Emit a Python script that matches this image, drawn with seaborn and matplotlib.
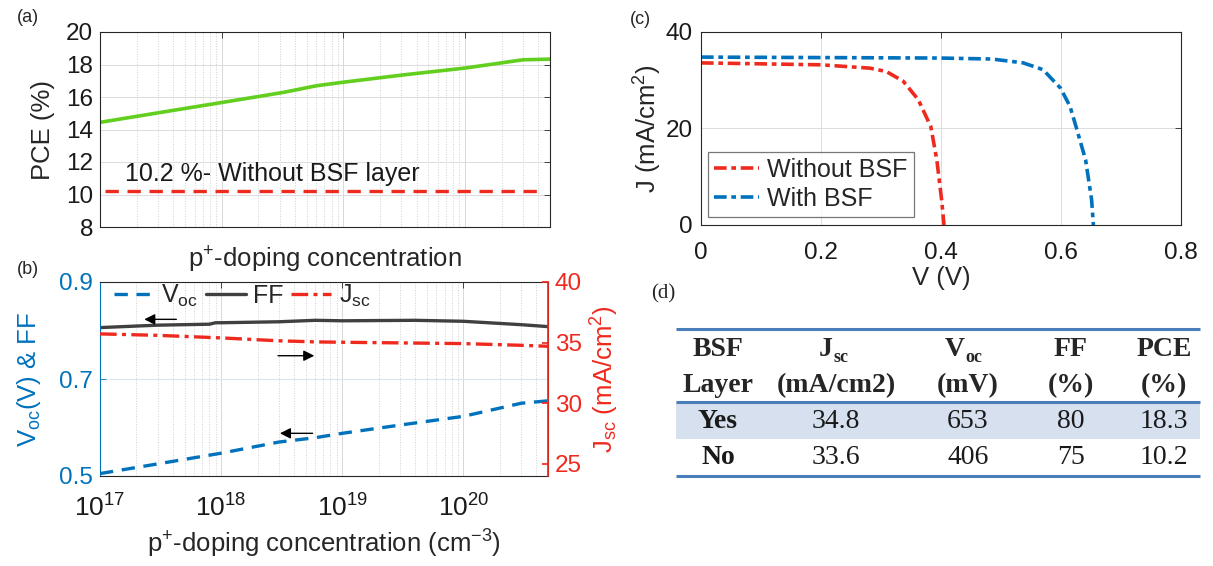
import numpy as np
import pandas as pd
import matplotlib
matplotlib.use("Agg")
import matplotlib.pyplot as plt
import seaborn as sns
from matplotlib.ticker import FixedLocator, NullFormatter, FixedFormatter, LogLocator
from matplotlib.lines import Line2D
from matplotlib.patches import Rectangle

# ---------------- data ----------------
# (a) PCE vs p+ doping
doping_a = [1e17, 3.2e17, 1e18, 3.2e18, 6e18, 1e19, 3.2e19, 1e20, 3e20, 5e20]
pce_bsf = [14.44, 15.06, 15.66, 16.28, 16.69, 16.91, 17.37, 17.78, 18.29, 18.33]
pce_no_bsf = 10.2
ref_doping = [1.1e17, 4.2e20]

# (b) Voc, FF, Jsc vs p+ doping
doping_b = [1e17, 3e17, 8e17, 9e17, 1e18, 3e18, 6e18, 1e19, 4e19, 1e20, 3e20, 5e20]
ff_vals = [0.806, 0.811, 0.813, 0.816, 0.816, 0.818, 0.821, 0.820, 0.821, 0.819, 0.812, 0.808]
doping_v = [1e17, 3e17, 1e18, 3e18, 6e18, 1e19, 3e19, 1e20, 3e20, 5e20]
voc_vals = [0.505, 0.525, 0.547, 0.570, 0.579, 0.588, 0.605, 0.623, 0.650, 0.655]
doping_j = [1e17, 3e17, 1e18, 3e18, 6e18, 1e19, 1e20, 3e20, 5e20]
jsc_vals = [35.72, 35.60, 35.39, 35.15, 35.06, 35.03, 34.92, 34.78, 34.70]

# (c) J-V curves
v_without = [0.0, 0.2, 0.282, 0.309, 0.337, 0.362, 0.383, 0.393, 0.401, 0.405]
j_without = [33.6, 33.2, 32.5, 31.8, 29.8, 26.0, 20.4, 13.5, 5.25, 0.0]
v_with = [0.0, 0.4, 0.485, 0.537, 0.570, 0.599, 0.615, 0.625, 0.641, 0.651, 0.654]
j_with = [34.8, 34.6, 34.4, 33.6, 32.2, 28.4, 24.6, 20.4, 13.5, 5.25, 0.0]

# (d) table
tbl_header1 = ["BSF", "J", "V", "FF", "PCE"]
tbl_header_sub = ["", "sc", "oc", "", ""]
tbl_header2 = ["Layer", "(mA/cm2)", "(mV)", "(%)", "(%)"]
tbl_rows = [["Yes", "34.8", "653", "80", "18.3"],
            ["No", "33.6", "406", "75", "10.2"]]

# ---------------- style ----------------
sns.set_theme(style="white")
plt.rcParams["font.family"] = ["Liberation Sans", "DejaVu Sans"]
plt.rcParams["mathtext.fontset"] = "custom"
plt.rcParams["mathtext.rm"] = "Liberation Sans"
plt.rcParams["mathtext.it"] = "Liberation Sans"
plt.rcParams["mathtext.bf"] = "Liberation Sans:bold"

BLUE = "#0072BD"
RED = "#EE2A1E"
GREEN = "#62CF1E"
GRAY = "#404040"
TICK = 17.5
LAB = 18.5

fig = plt.figure(figsize=(12.13, 5.66), dpi=100)
W, H = 1213, 566


def rect(l, t, r, b):
    return [l / W, 1 - b / H, (r - l) / W, (b - t) / H]


def style_box(ax):
    for s in ax.spines.values():
        s.set_color("#262626")
        s.set_linewidth(0.8)
    ax.tick_params(direction="in", length=4, width=0.6, labelsize=TICK,
                   top=True, right=True, colors="#262626", labelcolor="#1a1a1a")


def log_axis(ax):
    ax.set_xscale("log")
    ax.set_xlim(1e17, 5e20)
    ax.xaxis.set_major_locator(FixedLocator([1e17, 1e18, 1e19, 1e20]))
    ax.xaxis.set_minor_locator(LogLocator(base=10, subs=np.arange(2, 10)))
    ax.xaxis.set_minor_formatter(NullFormatter())
    ax.grid(True, which="minor", axis="x", color="#cfcfcf", linestyle=":", linewidth=0.7)
    ax.grid(True, which="major", axis="x", color="#d8d8d8", linestyle="-", linewidth=0.7)


# ---------------- (a) ----------------
ax_a = fig.add_axes(rect(100, 32, 550, 227))
log_axis(ax_a)
df_a = pd.DataFrame({"doping": doping_a, "pce": pce_bsf})
sns.lineplot(data=df_a, x="doping", y="pce", ax=ax_a, color=GREEN, linewidth=2.6)
df_ref = pd.DataFrame({"doping": ref_doping, "pce": [pce_no_bsf] * len(ref_doping)})
sns.lineplot(data=df_ref, x="doping", y="pce", ax=ax_a, color=RED, linewidth=2.4,
             linestyle=(0, (4, 2.6)))
ax_a.set_ylim(8, 20)
ax_a.set_yticks([8, 10, 12, 14, 16, 18, 20])
ax_a.grid(True, which="major", axis="y", color="#dcdcdc", linewidth=0.7)
ax_a.xaxis.set_major_formatter(NullFormatter())
style_box(ax_a)
ax_a.tick_params(axis="y", pad=5)
ax_a.set_xlabel("p$^{+}$-doping concentration", fontsize=LAB, labelpad=5)
ax_a.set_ylabel("PCE (%)", fontsize=LAB, labelpad=8)
ax_a.text(1.6e17, 11.25, "%.1f %%- Without BSF layer" % pce_no_bsf, fontsize=18,
          color="#1a1a1a", va="center")
fig.text(28 / W, 1 - 17 / H, "(a)", fontsize=13, ha="center", va="center")

# ---------------- (b) ----------------
ax_b = fig.add_axes(rect(100, 282, 548, 476))
log_axis(ax_b)
df_ff = pd.DataFrame({"doping": doping_b, "val": ff_vals})
df_voc = pd.DataFrame({"doping": doping_v, "val": voc_vals})
sns.lineplot(data=df_ff, x="doping", y="val", ax=ax_b, color=GRAY, linewidth=2.4)
sns.lineplot(data=df_voc, x="doping", y="val", ax=ax_b, color=BLUE, linewidth=2.4,
             linestyle=(0, (4, 2.6)))
ax_b.set_ylim(0.5, 0.9)
ax_b.set_yticks([0.5, 0.7, 0.9])
ax_b.yaxis.set_major_formatter(FixedFormatter(["0.5", "0.7", "0.9"]))
ax_b.grid(True, which="major", axis="y", color="#dde6f0", linewidth=0.8)
ax_b.xaxis.set_major_formatter(FixedFormatter([r"$\mathregular{10^{17}}$", r"$\mathregular{10^{18}}$",
                                               r"$\mathregular{10^{19}}$", r"$\mathregular{10^{20}}$"]))
style_box(ax_b)
ax_b.tick_params(axis="x", labelsize=19, pad=13)
ax_b.tick_params(axis="y", colors=BLUE, labelcolor=BLUE, right=False, pad=5)
ax_b.spines["left"].set_color(BLUE)
ax_b.set_xlabel("p$^{+}$-doping concentration (cm$^{-3}$)", fontsize=LAB, labelpad=5)
ax_b.set_ylabel("V$_{oc}$(V) & FF", fontsize=LAB, color=BLUE, labelpad=12)

ax_b2 = ax_b.twinx()
df_j = pd.DataFrame({"doping": doping_j, "val": jsc_vals})
sns.lineplot(data=df_j, x="doping", y="val", ax=ax_b2, color=RED, linewidth=2.4,
             linestyle=(0, (5, 1.6, 1.2, 1.6)))
ax_b2.set_ylim(24, 40)
ax_b2.set_yticks([25, 30, 35, 40])
ax_b2.set_xlim(1e17, 5e20)
for s in ax_b2.spines.values():
    s.set_visible(False)
ax_b2.spines["right"].set_visible(True)
ax_b2.spines["right"].set_color(RED)
ax_b2.tick_params(axis="y", direction="in", length=4, colors=RED, labelcolor=RED,
                  labelsize=TICK, right=True, pad=5)
ax_b2.set_ylabel("J$_{sc}$ (mA/cm$^{2}$)", fontsize=LAB, color=RED, labelpad=5)
ax_b2.set_xlabel("")

# arrows
arr = dict(arrowstyle="-|>", color="black", lw=1.0, mutation_scale=16)
ax_b.annotate("", xy=(2.2e17, 0.823), xytext=(4.5e17, 0.823), arrowprops=arr)
ax_b.annotate("", xy=(6.2e18, 0.748), xytext=(2.8e18, 0.748), arrowprops=arr)
ax_b.annotate("", xy=(2.9e18, 0.588), xytext=(6.0e18, 0.588), arrowprops=arr)

handles = [Line2D([], [], color=BLUE, lw=2.4, linestyle=(0, (4, 2.6))),
           Line2D([], [], color=GRAY, lw=2.4),
           Line2D([], [], color=RED, lw=2.4, linestyle=(0, (5, 1.6, 1.2, 1.6)))]
ax_b.legend(handles, ["V$_{oc}$", "FF", "J$_{sc}$"], loc="upper left", ncol=3,
            frameon=False, fontsize=18, handlelength=1.6, columnspacing=0.3,
            handletextpad=0.3, borderaxespad=0.0, borderpad=0.2,
            bbox_to_anchor=(0.02, 1.02))
fig.text(28 / W, 1 - 269 / H, "(b)", fontsize=13, ha="center", va="center")

# ---------------- (c) ----------------
ax_c = fig.add_axes(rect(701, 32, 1181, 225))
df_wo = pd.DataFrame({"V": v_without, "J": j_without})
df_w = pd.DataFrame({"V": v_with, "J": j_with})
dd = (0, (3.5, 1.3, 1.3, 1.3))
sns.lineplot(data=df_wo, x="V", y="J", ax=ax_c, color=RED, linewidth=2.6, linestyle=dd,
             sort=False, label="Without BSF")
sns.lineplot(data=df_w, x="V", y="J", ax=ax_c, color=BLUE, linewidth=2.6, linestyle=dd,
             sort=False, label="With BSF")
ax_c.set_xlim(0, 0.8)
ax_c.set_ylim(0, 40)
ax_c.set_xticks([0, 0.2, 0.4, 0.6, 0.8])
ax_c.xaxis.set_major_formatter(FixedFormatter(["0", "0.2", "0.4", "0.6", "0.8"]))
ax_c.set_yticks([0, 20, 40])
ax_c.grid(True, color="#dcdcdc", linewidth=0.7)
style_box(ax_c)
ax_c.tick_params(labelsize=TICK)
ax_c.tick_params(axis="x", pad=12)
ax_c.tick_params(axis="y", pad=6)
ax_c.set_xlabel("V (V)", fontsize=LAB, labelpad=2)
ax_c.set_ylabel("J (mA/cm$^{2}$)", fontsize=LAB, labelpad=1)
leg = ax_c.legend(loc="lower left", fontsize=18, handlelength=1.8, handletextpad=0.3,
                  fancybox=False, edgecolor="#555555", borderaxespad=0.0, borderpad=0.25,
                  labelspacing=0.2, bbox_to_anchor=(0.015, 0.04))
leg.get_frame().set_linewidth(0.9)
fig.text(640 / W, 1 - 20 / H, "(c)", fontsize=13, ha="center", va="center")

# ---------------- (d) table ----------------
ax_d = fig.add_axes([0, 0, 1, 1], zorder=-1)
ax_d.set_xlim(0, W)
ax_d.set_ylim(H, 0)
ax_d.axis("off")
tx0, tx1 = 676, 1200
y_top, y_hdr, y_mid, y_bot = 329, 402, 439, 476
ax_d.add_patch(Rectangle((tx0, y_hdr), tx1 - tx0, y_mid - y_hdr, color="#D6E0EF", lw=0))
for yy in (y_top, y_hdr, y_bot):
    ax_d.plot([tx0, tx1], [yy, yy], color="#4A7EBB", lw=2.2, solid_capstyle="butt")
col_x = [718, 836, 968, 1071, 1164]
SERIF = ["Liberation Serif", "DejaVu Serif"]
TF = 20
for cx, h1, sub, h2 in zip(col_x, tbl_header1, tbl_header_sub, tbl_header2):
    if sub:
        ax_d.text(cx - 3, 350, h1, fontsize=TF, fontweight="bold", family=SERIF,
                  ha="right", va="center")
        ax_d.text(cx - 3, 357, sub, fontsize=13, fontweight="bold", family=SERIF,
                  ha="left", va="center")
    else:
        ax_d.text(cx, 350, h1, fontsize=TF, fontweight="bold", family=SERIF,
                  ha="center", va="center")
    ax_d.text(cx, 386, h2, fontsize=TF, fontweight="bold", family=SERIF,
              ha="center", va="center")
for ry, row in zip([421, 458], tbl_rows):
    for i, (cx, val) in enumerate(zip(col_x, row)):
        ax_d.text(cx, ry, val, fontsize=TF, family=SERIF,
                  fontweight="bold" if i == 0 else "normal",
                  ha="center", va="center", color="#1a1a1a")
ax_d.text(663, 294, "(d)", fontsize=15, family=SERIF, ha="center", va="center")

fig.savefig("out.png", dpi=100)
